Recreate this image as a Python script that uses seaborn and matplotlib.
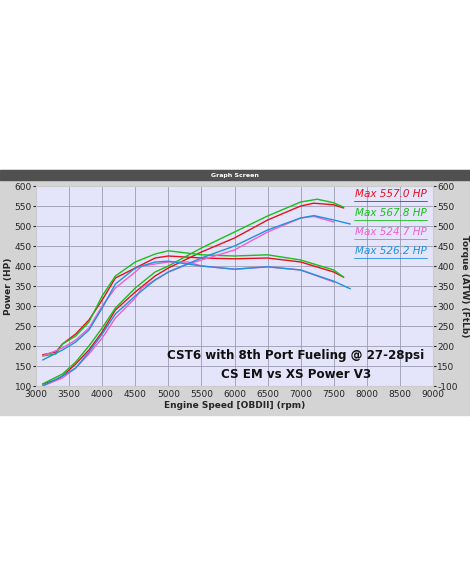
import matplotlib
matplotlib.use("Agg")
import matplotlib.pyplot as plt
import seaborn as sns
import pandas as pd
from matplotlib.patches import Rectangle

runs = ["Max 557.0 HP", "Max 567.8 HP", "Max 524.7 HP", "Max 526.2 HP"]
colors = ["#e8101c", "#18c018", "#f060d0", "#2090e0"]

hp_rpm = {
    runs[0]: [3100, 3300, 3400, 3600, 3800, 4000, 4200, 4500, 4800, 5000, 5500, 6000, 6500, 7000, 7200, 7500, 7650],
    runs[1]: [3100, 3400, 3600, 3800, 4000, 4200, 4500, 4800, 5000, 5500, 6000, 6500, 7000, 7250, 7500, 7650],
    runs[2]: [3100, 3400, 3600, 3800, 4000, 4200, 4500, 4600, 4800, 5000, 5300, 5500, 6000, 6500, 7000, 7200, 7500],
    runs[3]: [3100, 3400, 3600, 3800, 4000, 4200, 4500, 4800, 5000, 5500, 6000, 6500, 7000, 7200, 7500, 7750],
}
hp_val = {
    runs[0]: [105, 115, 125, 155, 190, 235, 290, 335, 375, 395, 435, 470, 515, 550, 557, 553, 545],
    runs[1]: [105, 130, 160, 200, 245, 295, 345, 385, 400, 445, 485, 525, 560, 567, 558, 547],
    runs[2]: [100, 120, 145, 180, 220, 270, 320, 345, 365, 385, 405, 415, 440, 485, 520, 524, 510],
    runs[3]: [100, 125, 145, 185, 230, 280, 325, 365, 385, 420, 450, 490, 520, 526, 515, 505],
}
tq_rpm = {
    runs[0]: [3100, 3300, 3400, 3600, 3800, 4000, 4200, 4500, 4800, 5000, 5500, 6000, 6500, 7000, 7500, 7650],
    runs[1]: [3100, 3300, 3400, 3600, 3800, 4000, 4200, 4500, 4800, 5000, 5500, 6000, 6500, 7000, 7500, 7650],
    runs[2]: [3100, 3400, 3600, 3800, 4000, 4200, 4500, 4600, 4800, 5000, 5300, 5500, 6000, 6500, 7000, 7500],
    runs[3]: [3100, 3400, 3600, 3800, 4000, 4200, 4500, 4800, 5000, 5500, 6000, 6500, 7000, 7500, 7750],
}
tq_val = {
    runs[0]: [178, 185, 205, 230, 265, 315, 370, 395, 420, 425, 420, 418, 420, 410, 385, 372],
    runs[1]: [175, 180, 205, 225, 260, 325, 375, 410, 430, 438, 428, 425, 428, 415, 390, 372],
    runs[2]: [175, 195, 215, 245, 300, 345, 385, 400, 405, 410, 410, 400, 392, 398, 390, 360],
    runs[3]: [165, 190, 210, 240, 295, 355, 395, 410, 412, 400, 392, 398, 390, 362, 343],
}

rows = []
for r in runs:
    for x, y in zip(hp_rpm[r], hp_val[r]):
        rows.append((r, "hp", x, y))
    for x, y in zip(tq_rpm[r], tq_val[r]):
        rows.append((r, "tq", x, y))
df = pd.DataFrame(rows, columns=["run", "kind", "rpm", "value"])
df["unit"] = df["run"] + df["kind"]

sns.set_style("whitegrid")
fig = plt.figure(figsize=(4.7, 5.88), dpi=100)
fig.patches.append(Rectangle((0, 1 - 415/588), 1, (415-170)/588, transform=fig.transFigure,
                             color="#d4d4d4", zorder=-10))
fig.patches.append(Rectangle((0, 1 - 180/588), 1, 10/588, transform=fig.transFigure,
                             color="#505050", zorder=-9))
fig.text(0.5, 1 - 175.5/588, "Graph Screen", ha="center", va="center", color="white", fontsize=4.5, fontweight="bold")

ax = fig.add_axes([36/470, 1 - 386/588, 397/470, 200/588])
ax.set_facecolor("#e4e4fa")
pal = dict(zip(runs, colors))
sns.lineplot(data=df, x="rpm", y="value", hue="run", units="unit", estimator=None,
             palette=pal, lw=1.0, ax=ax, legend=False, sort=True)
ax.set_xlim(3000, 9000)
ax.set_ylim(100, 600)
ax.set_xticks(range(3000, 9001, 500))
ax.set_yticks(range(100, 601, 50))
ax.grid(True, color="#9a9ab0", lw=0.6)
ax.tick_params(labelsize=6.5, length=2, pad=1)
for s in ax.spines.values():
    s.set_color("#606060"); s.set_linewidth(0.6)
ax.set_xlabel("Engine Speed [OBDII] (rpm)", fontsize=6.5, fontweight="bold", labelpad=1)
ax.set_ylabel("Power (HP)", fontsize=6.5, fontweight="bold", labelpad=1)
ax2 = ax.twinx()
ax2.set_ylim(100, 600)
ax2.set_yticks(range(100, 601, 50))
ax2.set_yticklabels(["-100"] + [str(v) for v in range(150, 601, 50)])
ax2.grid(False)
ax2.tick_params(labelsize=6.5, length=2, pad=1)
ax2.set_ylabel("Torque (ATW) (FtLb)", fontsize=6.5, fontweight="bold", rotation=270, labelpad=8)

for i, (r, c) in enumerate(zip(runs, colors)):
    y = 0.96 - i * 0.095
    ax.text(0.985, y, r, transform=ax.transAxes, ha="right", va="center",
            color=c, fontsize=7.5, fontstyle="italic")
    ax.plot([0.8, 0.985], [y - 0.035, y - 0.035], transform=ax.transAxes, color=c, lw=0.6)

ax.text(0.655, 0.155, "CST6 with 8th Port Fueling @ 27-28psi", transform=ax.transAxes,
        ha="center", va="center", fontsize=8.6, fontweight="bold", color="#111111")
ax.text(0.655, 0.055, "CS EM vs XS Power V3", transform=ax.transAxes,
        ha="center", va="center", fontsize=8.6, fontweight="bold", color="#111111")

fig.savefig("out.png", dpi=100)
